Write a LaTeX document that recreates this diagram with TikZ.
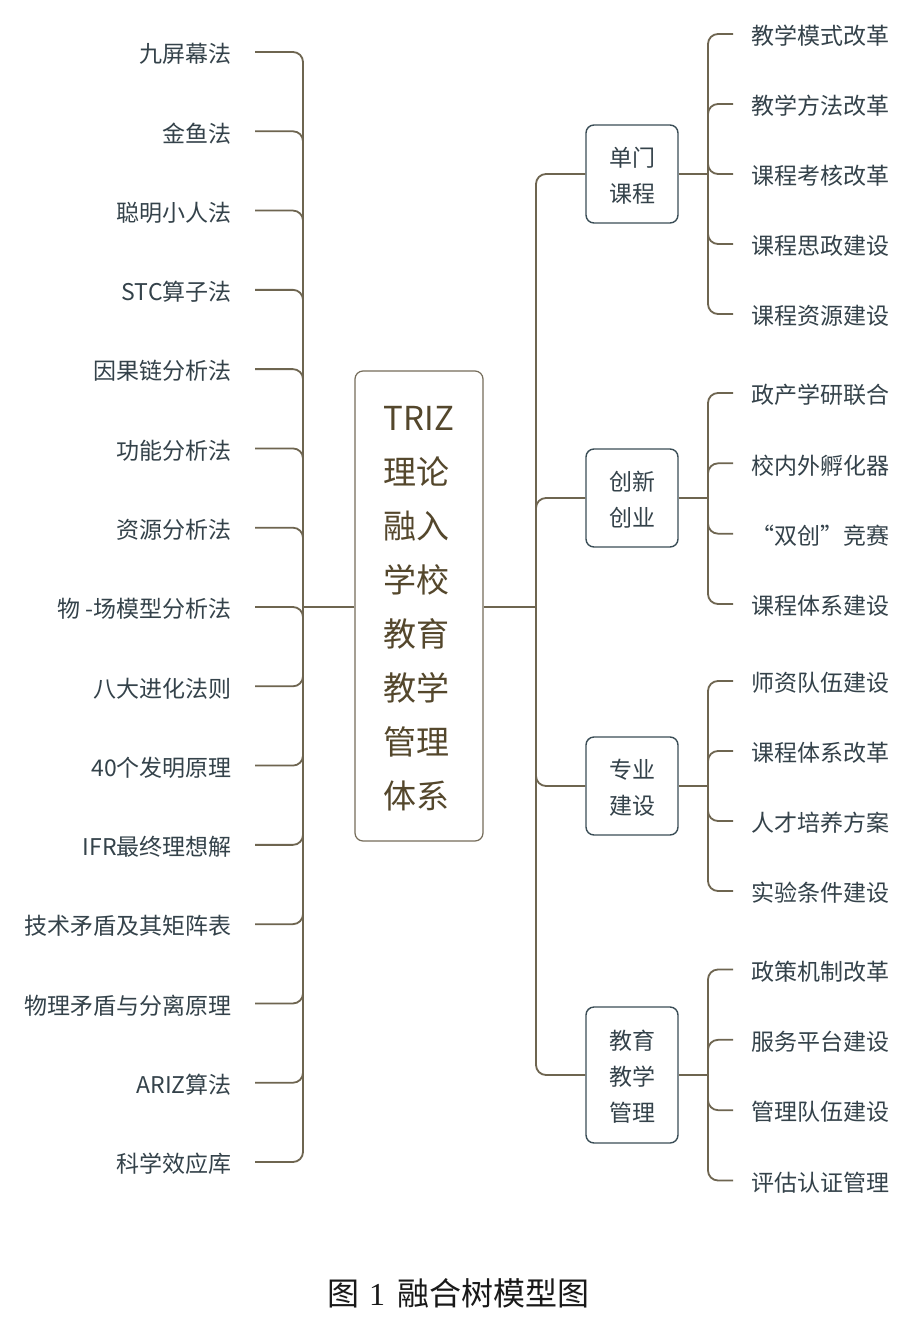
\documentclass[tikz,border=0pt]{standalone}
\usepackage{fontspec}
\setmainfont{Noto Sans CJK SC}
\newfontfamily\serifnum{Liberation Serif}
\newcommand{\lowtext}[1]{\raisebox{-2pt}[\height][\depth]{#1}}
\newcommand{\lowc}[1]{\raisebox{-3pt}[\height][\depth]{#1}}
\definecolor{lnc}{HTML}{6E6550}
\definecolor{txc}{HTML}{34424A}
\definecolor{bxc}{HTML}{3B4E57}
\definecolor{ctc}{HTML}{54472C}
\definecolor{cbc}{HTML}{756C5A}
\begin{document}
\begin{tikzpicture}[x=1pt,y=-1pt,
  litem/.style={anchor=east, inner sep=0pt, text=txc, font=\fontsize{23}{23}\selectfont},
  ritem/.style={anchor=east, inner sep=0pt, text=txc, font=\fontsize{23}{23}\selectfont},
  conn/.style={draw=lnc, line width=1.8pt, rounded corners=10pt},
  sbox/.style={draw=bxc, line width=1.4pt, rounded corners=8pt, minimum width=92pt,
    minimum height=98pt, align=center, text=txc, inner sep=0pt,
    font=\fontsize{23}{36}\selectfont},
  cbox/.style={draw=cbc, line width=1.2pt, rounded corners=8pt, minimum width=128pt,
    minimum height=470pt, align=left, text=ctc, inner sep=0pt,
    font=\fontsize{33}{54}\selectfont}]
\useasboundingbox (0,0) rectangle (912,1328);
\fill[white] (0,0) rectangle (912,1328);

% center
\node[cbox] (C) at (419,606) {\lowc{TRIZ}\\\lowc{理论}\\\lowc{融入}\\\lowc{学校}\\\lowc{教育}\\\lowc{教学}\\\lowc{管理}\\\lowc{体系}};

\coordinate (lj) at (303,607);
\coordinate (lx) at (255,0);
\coordinate (rj) at (536,607);
\coordinate (rx) at (733,0);

% left items
\foreach \t [count=\i] in {九屏幕法,金鱼法,聪明小人法,STC算子法,因果链分析法,功能分析法,资源分析法,物 -场模型分析法,八大进化法则,40个发明原理,IFR最终理想解,技术矛盾及其矩阵表,物理矛盾与分离原理,ARIZ算法,科学效应库}
  \node[litem] (L\i) at (232,{52+(\i-1)*79.2857}) {\lowtext{\t}};

\draw[conn] (C.west |- lj) -- (lj);
\foreach \i in {1,...,15}
  \draw[conn] (lj) |- (L\i.east -| lx);

% boxes
\node[sbox] (B1) at (632,174) {\lowtext{单门}\\\lowtext{课程}};
\node[sbox] (B2) at (632,498) {\lowtext{创新}\\\lowtext{创业}};
\node[sbox] (B3) at (632,786) {\lowtext{专业}\\\lowtext{建设}};
\node[sbox, minimum height=136pt] (B4) at (632,1075) {\lowtext{教育}\\\lowtext{教学}\\\lowtext{管理}};

\draw[conn] (C.east |- rj) -- (rj);
\foreach \b in {B1,B2,B3,B4}
  \draw[conn] (rj) |- (\b.west);

\coordinate (j1) at (708,174);
\coordinate (j2) at (708,498);
\coordinate (j3) at (708,786);
\coordinate (j4) at (708,1075);

% box1 items
\foreach \t [count=\i] in {教学模式改革,教学方法改革,课程考核改革,课程思政建设,课程资源建设}
  \node[ritem] (Ra\i) at (890,{34+(\i-1)*70}) {\lowtext{\t}};
% box2 items
\foreach \t [count=\i] in {政产学研联合,校内外孵化器,“双创”竞赛,课程体系建设}
  \node[ritem] (Rb\i) at (890,{393+(\i-1)*70.333}) {\lowtext{\t}};
% box3 items
\foreach \t [count=\i] in {师资队伍建设,课程体系改革,人才培养方案,实验条件建设}
  \node[ritem] (Rc\i) at (890,{681+(\i-1)*70}) {\lowtext{\t}};
% box4 items
\foreach \t [count=\i] in {政策机制改革,服务平台建设,管理队伍建设,评估认证管理}
  \node[ritem] (Rd\i) at (890,{969.5+(\i-1)*70.333}) {\lowtext{\t}};

\draw[conn] (B1.east) -- (j1);
\draw[conn] (B2.east) -- (j2);
\draw[conn] (B3.east) -- (j3);
\draw[conn] (B4.east) -- (j4);
\foreach \i in {1,...,5} \draw[conn] (j1) |- (Ra\i.west -| rx);
\foreach \i in {1,...,4} \draw[conn] (j2) |- (Rb\i.west -| rx);
\foreach \i in {1,...,4} \draw[conn] (j3) |- (Rc\i.west -| rx);
\foreach \i in {1,...,4} \draw[conn] (j4) |- (Rd\i.west -| rx);

% caption
\node[text=black!90, font=\fontsize{32}{32}\selectfont] (cap) at (458,1293) {图\hspace{10pt}{\serifnum 1}\hspace{12pt}融合树模型图};
\end{tikzpicture}
\end{document}
